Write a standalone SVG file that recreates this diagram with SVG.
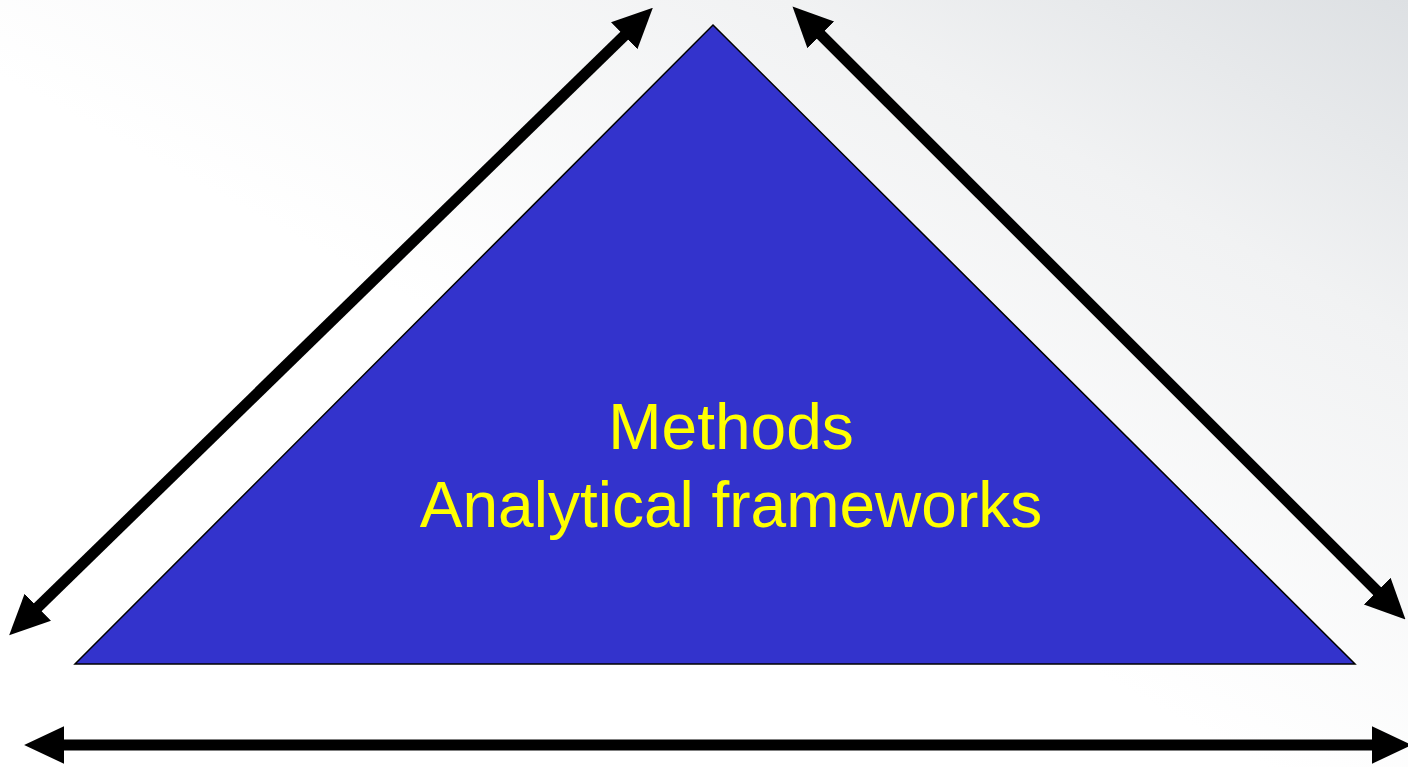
<svg xmlns="http://www.w3.org/2000/svg" width="1408" height="767" viewBox="0 0 1408 767">
  <style>
    .arrow { stroke: #000; stroke-width: 11; fill: none; marker-start: url(#head); marker-end: url(#head); }
    .label { font-family: "Liberation Sans", Arial, sans-serif; font-size: 64px; fill: #FFFF00; text-anchor: middle; }
  </style>
  <defs>
    <linearGradient id="bg" x1="0" y1="1" x2="1" y2="0">
      <stop offset="0" stop-color="#ffffff"/>
      <stop offset="0.45" stop-color="#ffffff"/>
      <stop offset="0.78" stop-color="#f1f2f3"/>
      <stop offset="1" stop-color="#dde0e3"/>
    </linearGradient>
    <marker id="head" markerUnits="userSpaceOnUse" markerWidth="40" markerHeight="40" viewBox="0 0 36 36" refX="1" refY="18" orient="auto-start-reverse">
      <path d="M0,1 L36,18 L0,35 Z" fill="#000"/>
    </marker>
  </defs>
  <rect x="0" y="0" width="1408" height="767" fill="url(#bg)"/>
  <g id="triangle">
    <polygon points="713,25 1355,664 75,664" fill="#3333CC" stroke="#000" stroke-width="1.5"/>
    <text class="label" x="731" y="449">Methods</text>
    <text class="label" x="731" y="527">Analytical frameworks</text>
  </g>
  <g id="connectors">
    <line class="arrow" x1="37" y1="608" x2="625" y2="35"/>
    <line class="arrow" x1="820" y1="34" x2="1378" y2="592"/>
    <line class="arrow" x1="63" y1="745" x2="1373" y2="745"/>
  </g>
</svg>
